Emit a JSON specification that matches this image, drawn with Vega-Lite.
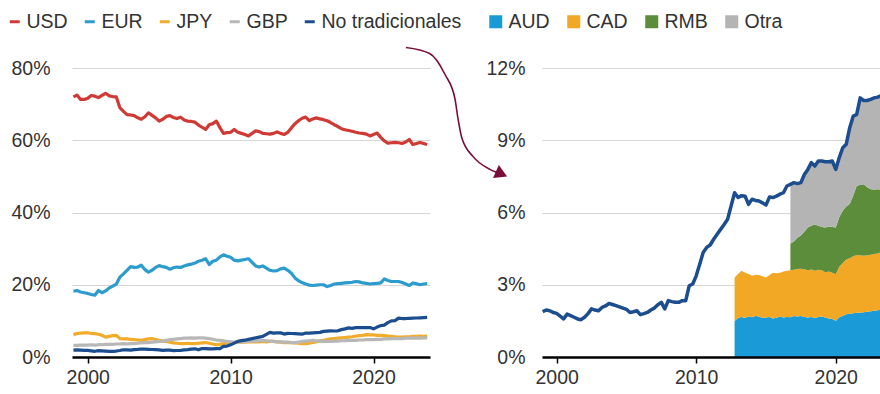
{
  "$schema": "https://vega.github.io/schema/vega-lite/v6.json",
  "padding": {"left": 5, "top": 12, "right": 0, "bottom": 0},
  "bounds": "flush",
  "spacing": 112,
  "config": {
    "view": {"stroke": null},
    "font": "Liberation Sans",
    "axis": {"labelFont": "Liberation Sans", "labelFontSize": 19.5, "labelColor": "#333333", "title": null},
    "legend": {"labelFont": "Liberation Sans", "labelFontSize": 19.5, "labelColor": "#333333", "title": null, "gridAlign": "none"}
  },
  "datasets": {
    "monedas": [
      {"t": 1999.00, "USD": 72.0, "EUR": 18.2, "JPY": 6.2, "GBP": 3.2, "No tradicionales": 1.88},
      {"t": 1999.25, "USD": 72.5, "EUR": 18.4, "JPY": 6.5, "GBP": 3.2, "No tradicionales": 1.95},
      {"t": 1999.50, "USD": 71.3, "EUR": 18.0, "JPY": 6.6, "GBP": 3.3, "No tradicionales": 1.92},
      {"t": 1999.75, "USD": 71.3, "EUR": 17.8, "JPY": 6.7, "GBP": 3.3, "No tradicionales": 1.85},
      {"t": 2000.00, "USD": 71.6, "EUR": 17.6, "JPY": 6.7, "GBP": 3.3, "No tradicionales": 1.81},
      {"t": 2000.25, "USD": 72.4, "EUR": 17.3, "JPY": 6.5, "GBP": 3.4, "No tradicionales": 1.70},
      {"t": 2000.50, "USD": 72.2, "EUR": 17.1, "JPY": 6.45, "GBP": 3.3, "No tradicionales": 1.58},
      {"t": 2000.75, "USD": 71.8, "EUR": 18.4, "JPY": 6.3, "GBP": 3.4, "No tradicionales": 1.78},
      {"t": 2001.00, "USD": 72.4, "EUR": 17.8, "JPY": 6.0, "GBP": 3.4, "No tradicionales": 1.72},
      {"t": 2001.25, "USD": 73.0, "EUR": 18.3, "JPY": 5.5, "GBP": 3.5, "No tradicionales": 1.65},
      {"t": 2001.50, "USD": 72.3, "EUR": 19.1, "JPY": 5.7, "GBP": 3.5, "No tradicionales": 1.58},
      {"t": 2001.75, "USD": 72.1, "EUR": 19.6, "JPY": 5.9, "GBP": 3.5, "No tradicionales": 1.55},
      {"t": 2002.00, "USD": 72.0, "EUR": 20.2, "JPY": 6.0, "GBP": 3.6, "No tradicionales": 1.65},
      {"t": 2002.25, "USD": 69.0, "EUR": 22.1, "JPY": 5.1, "GBP": 3.6, "No tradicionales": 1.80},
      {"t": 2002.50, "USD": 68.0, "EUR": 23.0, "JPY": 5.0, "GBP": 3.7, "No tradicionales": 2.00},
      {"t": 2002.75, "USD": 67.1, "EUR": 24.0, "JPY": 5.0, "GBP": 3.6, "No tradicionales": 1.95},
      {"t": 2003.00, "USD": 67.0, "EUR": 25.0, "JPY": 4.9, "GBP": 3.7, "No tradicionales": 1.92},
      {"t": 2003.25, "USD": 66.8, "EUR": 24.8, "JPY": 4.8, "GBP": 3.7, "No tradicionales": 2.06},
      {"t": 2003.50, "USD": 66.2, "EUR": 24.9, "JPY": 4.7, "GBP": 3.8, "No tradicionales": 2.12},
      {"t": 2003.75, "USD": 65.8, "EUR": 25.4, "JPY": 4.6, "GBP": 3.9, "No tradicionales": 2.22},
      {"t": 2004.00, "USD": 66.5, "EUR": 24.2, "JPY": 4.8, "GBP": 4.0, "No tradicionales": 2.18},
      {"t": 2004.25, "USD": 67.6, "EUR": 23.5, "JPY": 5.0, "GBP": 4.0, "No tradicionales": 2.13},
      {"t": 2004.50, "USD": 66.9, "EUR": 24.0, "JPY": 5.1, "GBP": 4.1, "No tradicionales": 2.08},
      {"t": 2004.75, "USD": 66.2, "EUR": 24.8, "JPY": 4.8, "GBP": 4.2, "No tradicionales": 2.03},
      {"t": 2005.00, "USD": 65.3, "EUR": 25.3, "JPY": 4.6, "GBP": 4.3, "No tradicionales": 1.98},
      {"t": 2005.25, "USD": 65.8, "EUR": 25.0, "JPY": 4.4, "GBP": 4.4, "No tradicionales": 1.85},
      {"t": 2005.50, "USD": 66.6, "EUR": 24.8, "JPY": 4.3, "GBP": 4.6, "No tradicionales": 1.88},
      {"t": 2005.75, "USD": 66.8, "EUR": 24.3, "JPY": 4.1, "GBP": 4.8, "No tradicionales": 1.92},
      {"t": 2006.00, "USD": 66.3, "EUR": 24.7, "JPY": 3.9, "GBP": 4.9, "No tradicionales": 1.76},
      {"t": 2006.25, "USD": 66.0, "EUR": 24.9, "JPY": 3.8, "GBP": 5.0, "No tradicionales": 1.80},
      {"t": 2006.50, "USD": 66.4, "EUR": 24.8, "JPY": 3.7, "GBP": 5.1, "No tradicionales": 1.85},
      {"t": 2006.75, "USD": 65.6, "EUR": 25.2, "JPY": 3.7, "GBP": 5.2, "No tradicionales": 1.95},
      {"t": 2007.00, "USD": 65.3, "EUR": 25.5, "JPY": 3.8, "GBP": 5.2, "No tradicionales": 2.03},
      {"t": 2007.25, "USD": 65.2, "EUR": 25.7, "JPY": 3.7, "GBP": 5.3, "No tradicionales": 2.17},
      {"t": 2007.50, "USD": 65.0, "EUR": 26.0, "JPY": 3.7, "GBP": 5.2, "No tradicionales": 2.27},
      {"t": 2007.75, "USD": 64.2, "EUR": 26.5, "JPY": 3.8, "GBP": 5.3, "No tradicionales": 2.00},
      {"t": 2008.00, "USD": 63.6, "EUR": 26.8, "JPY": 3.9, "GBP": 5.3, "No tradicionales": 2.34},
      {"t": 2008.25, "USD": 63.0, "EUR": 27.2, "JPY": 4.0, "GBP": 5.2, "No tradicionales": 2.30},
      {"t": 2008.50, "USD": 64.3, "EUR": 25.6, "JPY": 3.8, "GBP": 5.1, "No tradicionales": 2.27},
      {"t": 2008.75, "USD": 64.6, "EUR": 26.5, "JPY": 3.6, "GBP": 4.9, "No tradicionales": 2.27},
      {"t": 2009.00, "USD": 65.3, "EUR": 26.8, "JPY": 3.4, "GBP": 4.7, "No tradicionales": 2.34},
      {"t": 2009.25, "USD": 63.5, "EUR": 27.7, "JPY": 3.5, "GBP": 4.6, "No tradicionales": 2.34},
      {"t": 2009.50, "USD": 61.9, "EUR": 28.3, "JPY": 3.7, "GBP": 4.5, "No tradicionales": 2.96},
      {"t": 2009.75, "USD": 62.1, "EUR": 27.9, "JPY": 3.9, "GBP": 4.3, "No tradicionales": 3.03},
      {"t": 2010.00, "USD": 62.2, "EUR": 27.6, "JPY": 4.0, "GBP": 4.2, "No tradicionales": 3.37},
      {"t": 2010.25, "USD": 63.0, "EUR": 26.8, "JPY": 4.0, "GBP": 4.1, "No tradicionales": 3.85},
      {"t": 2010.50, "USD": 62.2, "EUR": 26.6, "JPY": 4.1, "GBP": 4.2, "No tradicionales": 4.34},
      {"t": 2010.75, "USD": 61.9, "EUR": 26.8, "JPY": 4.1, "GBP": 4.2, "No tradicionales": 4.55},
      {"t": 2011.00, "USD": 61.6, "EUR": 27.0, "JPY": 4.1, "GBP": 4.3, "No tradicionales": 4.65},
      {"t": 2011.25, "USD": 61.2, "EUR": 27.2, "JPY": 4.2, "GBP": 4.3, "No tradicionales": 4.89},
      {"t": 2011.50, "USD": 61.9, "EUR": 26.2, "JPY": 4.15, "GBP": 4.4, "No tradicionales": 5.10},
      {"t": 2011.75, "USD": 62.6, "EUR": 25.2, "JPY": 4.2, "GBP": 4.4, "No tradicionales": 5.30},
      {"t": 2012.00, "USD": 62.4, "EUR": 24.9, "JPY": 4.2, "GBP": 4.5, "No tradicionales": 5.50},
      {"t": 2012.25, "USD": 61.9, "EUR": 25.2, "JPY": 4.3, "GBP": 4.6, "No tradicionales": 5.72},
      {"t": 2012.50, "USD": 61.8, "EUR": 24.6, "JPY": 4.2, "GBP": 4.5, "No tradicionales": 6.27},
      {"t": 2012.75, "USD": 61.7, "EUR": 24.0, "JPY": 4.3, "GBP": 4.4, "No tradicionales": 6.82},
      {"t": 2013.00, "USD": 61.9, "EUR": 23.8, "JPY": 4.3, "GBP": 4.3, "No tradicionales": 6.62},
      {"t": 2013.25, "USD": 62.3, "EUR": 23.9, "JPY": 4.2, "GBP": 4.2, "No tradicionales": 6.70},
      {"t": 2013.50, "USD": 61.9, "EUR": 24.4, "JPY": 4.1, "GBP": 4.2, "No tradicionales": 6.68},
      {"t": 2013.75, "USD": 61.6, "EUR": 24.6, "JPY": 4.0, "GBP": 4.1, "No tradicionales": 6.34},
      {"t": 2014.00, "USD": 62.2, "EUR": 24.0, "JPY": 4.0, "GBP": 4.1, "No tradicionales": 6.55},
      {"t": 2014.25, "USD": 63.4, "EUR": 23.2, "JPY": 4.0, "GBP": 4.0, "No tradicionales": 6.50},
      {"t": 2014.50, "USD": 64.6, "EUR": 21.9, "JPY": 3.9, "GBP": 4.0, "No tradicionales": 6.48},
      {"t": 2014.75, "USD": 65.4, "EUR": 21.1, "JPY": 3.8, "GBP": 4.1, "No tradicionales": 6.40},
      {"t": 2015.00, "USD": 66.1, "EUR": 20.6, "JPY": 3.7, "GBP": 4.3, "No tradicionales": 6.31},
      {"t": 2015.25, "USD": 66.4, "EUR": 20.2, "JPY": 3.7, "GBP": 4.4, "No tradicionales": 6.64},
      {"t": 2015.50, "USD": 65.4, "EUR": 19.9, "JPY": 3.8, "GBP": 4.5, "No tradicionales": 6.62},
      {"t": 2015.75, "USD": 65.9, "EUR": 19.8, "JPY": 4.0, "GBP": 4.6, "No tradicionales": 6.68},
      {"t": 2016.00, "USD": 66.2, "EUR": 19.9, "JPY": 4.2, "GBP": 4.5, "No tradicionales": 6.76},
      {"t": 2016.25, "USD": 65.9, "EUR": 20.0, "JPY": 4.5, "GBP": 4.4, "No tradicionales": 6.82},
      {"t": 2016.50, "USD": 65.7, "EUR": 20.0, "JPY": 4.6, "GBP": 4.3, "No tradicionales": 7.10},
      {"t": 2016.75, "USD": 65.4, "EUR": 19.5, "JPY": 4.8, "GBP": 4.3, "No tradicionales": 7.17},
      {"t": 2017.00, "USD": 64.9, "EUR": 19.8, "JPY": 5.0, "GBP": 4.3, "No tradicionales": 7.24},
      {"t": 2017.25, "USD": 64.3, "EUR": 20.2, "JPY": 5.1, "GBP": 4.4, "No tradicionales": 7.20},
      {"t": 2017.50, "USD": 63.8, "EUR": 20.3, "JPY": 5.2, "GBP": 4.4, "No tradicionales": 7.24},
      {"t": 2017.75, "USD": 63.2, "EUR": 20.4, "JPY": 5.3, "GBP": 4.5, "No tradicionales": 7.58},
      {"t": 2018.00, "USD": 62.9, "EUR": 20.5, "JPY": 5.4, "GBP": 4.5, "No tradicionales": 7.79},
      {"t": 2018.25, "USD": 62.7, "EUR": 20.6, "JPY": 5.5, "GBP": 4.6, "No tradicionales": 8.07},
      {"t": 2018.50, "USD": 62.5, "EUR": 20.7, "JPY": 5.6, "GBP": 4.6, "No tradicionales": 7.93},
      {"t": 2018.75, "USD": 62.2, "EUR": 20.9, "JPY": 5.8, "GBP": 4.6, "No tradicionales": 8.14},
      {"t": 2019.00, "USD": 62.0, "EUR": 20.8, "JPY": 5.9, "GBP": 4.7, "No tradicionales": 8.14},
      {"t": 2019.25, "USD": 61.9, "EUR": 20.5, "JPY": 6.0, "GBP": 4.7, "No tradicionales": 8.11},
      {"t": 2019.50, "USD": 61.7, "EUR": 20.4, "JPY": 6.2, "GBP": 4.8, "No tradicionales": 8.11},
      {"t": 2019.75, "USD": 61.2, "EUR": 20.2, "JPY": 6.1, "GBP": 4.8, "No tradicionales": 8.14},
      {"t": 2020.00, "USD": 61.6, "EUR": 20.3, "JPY": 6.1, "GBP": 4.8, "No tradicionales": 7.79},
      {"t": 2020.25, "USD": 62.0, "EUR": 20.4, "JPY": 6.0, "GBP": 4.9, "No tradicionales": 8.28},
      {"t": 2020.50, "USD": 60.8, "EUR": 20.5, "JPY": 6.0, "GBP": 4.9, "No tradicionales": 8.69},
      {"t": 2020.75, "USD": 59.8, "EUR": 21.6, "JPY": 5.9, "GBP": 5.0, "No tradicionales": 8.83},
      {"t": 2021.00, "USD": 59.2, "EUR": 21.2, "JPY": 5.8, "GBP": 5.0, "No tradicionales": 9.52},
      {"t": 2021.25, "USD": 59.3, "EUR": 20.9, "JPY": 5.7, "GBP": 5.1, "No tradicionales": 10.00},
      {"t": 2021.50, "USD": 59.4, "EUR": 20.9, "JPY": 5.6, "GBP": 5.1, "No tradicionales": 10.07},
      {"t": 2021.75, "USD": 59.3, "EUR": 20.9, "JPY": 5.5, "GBP": 5.1, "No tradicionales": 10.76},
      {"t": 2022.00, "USD": 59.1, "EUR": 20.6, "JPY": 5.5, "GBP": 5.1, "No tradicionales": 10.65},
      {"t": 2022.25, "USD": 59.5, "EUR": 20.2, "JPY": 5.6, "GBP": 5.2, "No tradicionales": 10.65},
      {"t": 2022.50, "USD": 60.2, "EUR": 19.8, "JPY": 5.6, "GBP": 5.2, "No tradicionales": 10.70},
      {"t": 2022.75, "USD": 58.8, "EUR": 20.5, "JPY": 5.7, "GBP": 5.2, "No tradicionales": 10.76},
      {"t": 2023.00, "USD": 59.1, "EUR": 20.3, "JPY": 5.7, "GBP": 5.3, "No tradicionales": 10.79},
      {"t": 2023.25, "USD": 59.4, "EUR": 20.0, "JPY": 5.8, "GBP": 5.2, "No tradicionales": 10.85},
      {"t": 2023.50, "USD": 59.1, "EUR": 20.2, "JPY": 5.7, "GBP": 5.3, "No tradicionales": 10.90},
      {"t": 2023.75, "USD": 58.8, "EUR": 20.3, "JPY": 5.8, "GBP": 5.3, "No tradicionales": 10.95}
    ],
    "bloques": [
      {"t": 2012.75, "AUD": 1.50, "CAD": 1.80, "RMB": null, "Otra": null},
      {"t": 2013.00, "AUD": 1.62, "CAD": 1.83, "RMB": null, "Otra": null},
      {"t": 2013.25, "AUD": 1.66, "CAD": 1.92, "RMB": null, "Otra": null},
      {"t": 2013.50, "AUD": 1.62, "CAD": 1.88, "RMB": null, "Otra": null},
      {"t": 2013.75, "AUD": 1.68, "CAD": 1.77, "RMB": null, "Otra": null},
      {"t": 2014.00, "AUD": 1.65, "CAD": 1.72, "RMB": null, "Otra": null},
      {"t": 2014.25, "AUD": 1.70, "CAD": 1.72, "RMB": null, "Otra": null},
      {"t": 2014.50, "AUD": 1.68, "CAD": 1.72, "RMB": null, "Otra": null},
      {"t": 2014.75, "AUD": 1.62, "CAD": 1.73, "RMB": null, "Otra": null},
      {"t": 2015.00, "AUD": 1.64, "CAD": 1.66, "RMB": null, "Otra": null},
      {"t": 2015.25, "AUD": 1.66, "CAD": 1.74, "RMB": null, "Otra": null},
      {"t": 2015.50, "AUD": 1.60, "CAD": 1.90, "RMB": null, "Otra": null},
      {"t": 2015.75, "AUD": 1.63, "CAD": 1.85, "RMB": null, "Otra": null},
      {"t": 2016.00, "AUD": 1.68, "CAD": 1.82, "RMB": null, "Otra": null},
      {"t": 2016.25, "AUD": 1.64, "CAD": 1.91, "RMB": null, "Otra": null},
      {"t": 2016.50, "AUD": 1.66, "CAD": 1.92, "RMB": null, "Otra": null},
      {"t": 2016.75, "AUD": 1.65, "CAD": 1.95, "RMB": 1.10, "Otra": 2.47},
      {"t": 2017.00, "AUD": 1.70, "CAD": 1.92, "RMB": 1.18, "Otra": 2.44},
      {"t": 2017.25, "AUD": 1.68, "CAD": 1.97, "RMB": 1.30, "Otra": 2.25},
      {"t": 2017.50, "AUD": 1.70, "CAD": 1.96, "RMB": 1.39, "Otra": 2.19},
      {"t": 2017.75, "AUD": 1.66, "CAD": 1.98, "RMB": 1.56, "Otra": 2.38},
      {"t": 2018.00, "AUD": 1.64, "CAD": 1.96, "RMB": 1.78, "Otra": 2.41},
      {"t": 2018.25, "AUD": 1.66, "CAD": 1.97, "RMB": 1.82, "Otra": 2.62},
      {"t": 2018.50, "AUD": 1.62, "CAD": 1.96, "RMB": 1.92, "Otra": 2.43},
      {"t": 2018.75, "AUD": 1.66, "CAD": 1.96, "RMB": 1.83, "Otra": 2.69},
      {"t": 2019.00, "AUD": 1.68, "CAD": 1.92, "RMB": 1.80, "Otra": 2.74},
      {"t": 2019.25, "AUD": 1.64, "CAD": 1.88, "RMB": 1.86, "Otra": 2.73},
      {"t": 2019.50, "AUD": 1.60, "CAD": 1.95, "RMB": 1.87, "Otra": 2.69},
      {"t": 2019.75, "AUD": 1.58, "CAD": 1.92, "RMB": 1.90, "Otra": 2.74},
      {"t": 2020.00, "AUD": 1.51, "CAD": 1.93, "RMB": 1.94, "Otra": 2.41},
      {"t": 2020.25, "AUD": 1.65, "CAD": 2.10, "RMB": 2.05, "Otra": 2.48},
      {"t": 2020.50, "AUD": 1.70, "CAD": 2.20, "RMB": 2.17, "Otra": 2.62},
      {"t": 2020.75, "AUD": 1.78, "CAD": 2.27, "RMB": 2.20, "Otra": 2.58},
      {"t": 2021.00, "AUD": 1.80, "CAD": 2.30, "RMB": 2.25, "Otra": 3.17},
      {"t": 2021.25, "AUD": 1.82, "CAD": 2.36, "RMB": 2.52, "Otra": 3.30},
      {"t": 2021.50, "AUD": 1.84, "CAD": 2.40, "RMB": 2.86, "Otra": 2.97},
      {"t": 2021.75, "AUD": 1.84, "CAD": 2.38, "RMB": 2.93, "Otra": 3.61},
      {"t": 2022.00, "AUD": 1.86, "CAD": 2.34, "RMB": 2.97, "Otra": 3.48},
      {"t": 2022.25, "AUD": 1.88, "CAD": 2.34, "RMB": 2.83, "Otra": 3.60},
      {"t": 2022.50, "AUD": 1.90, "CAD": 2.35, "RMB": 2.72, "Otra": 3.73},
      {"t": 2022.75, "AUD": 1.92, "CAD": 2.36, "RMB": 2.67, "Otra": 3.81},
      {"t": 2023.00, "AUD": 1.94, "CAD": 2.36, "RMB": 2.67, "Otra": 3.82},
      {"t": 2023.25, "AUD": 1.96, "CAD": 2.39, "RMB": 2.60, "Otra": 3.90},
      {"t": 2023.50, "AUD": 1.98, "CAD": 2.40, "RMB": 2.52, "Otra": 4.00},
      {"t": 2023.75, "AUD": 1.99, "CAD": 2.41, "RMB": 2.52, "Otra": 4.03}
    ],
    "flecha": [
      {"t": 1989.2, "v": 12.85},
      {"t": 1990.9, "v": 12.6},
      {"t": 1992.0, "v": 11.73},
      {"t": 1992.71, "v": 10.73},
      {"t": 1992.93, "v": 9.9},
      {"t": 1993.22, "v": 9.07},
      {"t": 1994.0, "v": 8.33},
      {"t": 1995.22, "v": 7.79},
      {"t": 1995.72, "v": 7.66}
    ],
    "punta": [
      {"t": 1996.05, "v": 7.6}
    ]
  },
  "resolve": {
    "scale": {"color": "independent", "x": "independent", "y": "independent"},
    "legend": {"color": "independent"}
  },
  "hconcat": [
    {
      "width": 358,
      "height": 289,
      "data": {"name": "monedas"},
      "transform": [
        {"fold": ["USD", "EUR", "JPY", "GBP", "No tradicionales"], "as": ["serie", "v"]}
      ],
      "mark": {"type": "line", "strokeWidth": 3.2, "strokeJoin": "round"},
      "encoding": {
        "x": {
          "field": "t", "type": "quantitative",
          "scale": {"domain": [1998.9, 2023.95], "nice": false, "zero": false},
          "axis": {
            "values": [2000, 2010, 2020], "format": "d", "grid": false,
            "domain": true, "domainColor": "#000000", "domainWidth": 2.5,
            "ticks": true, "tickColor": "#000000", "tickSize": 6, "tickWidth": 1.5,
            "labelPadding": 5, "zindex": 1
          }
        },
        "y": {
          "field": "v", "type": "quantitative",
          "scale": {"domain": [0, 80], "nice": false},
          "axis": {
            "values": [0, 20, 40, 60, 80], "labelExpr": "datum.value + '%'",
            "grid": true, "gridColor": "#d6d6d6", "gridWidth": 1.2,
            "domain": false, "ticks": false, "labelPadding": 22
          }
        },
        "color": {
          "field": "serie", "type": "nominal",
          "scale": {
            "domain": ["USD", "EUR", "JPY", "GBP", "No tradicionales"],
            "range": ["#cf3a35", "#2c9ccf", "#f0ac2a", "#b7b7b7", "#1b4d8f"]
          },
          "legend": {
            "orient": "none", "legendX": -67, "legendY": -56, "direction": "horizontal",
            "symbolType": "stroke", "symbolStrokeWidth": 3, "symbolSize": 100,
            "labelOffset": 2, "columnPadding": 10
          }
        }
      }
    },
    {
      "width": 338,
      "height": 289,
      "layer": [
        {
          "data": {"name": "bloques"},
          "transform": [
            {"fold": ["AUD", "CAD", "RMB", "Otra"], "as": ["serie", "v"]},
            {"filter": "isValid(datum.v)"},
            {"stack": "v", "groupby": ["t"], "as": ["v0", "v1"]}
          ],
          "mark": {"type": "area", "opacity": 1, "clip": true},
          "encoding": {
            "x": {
              "field": "t", "type": "quantitative",
              "scale": {"domain": [1998.95, 2023.17], "nice": false, "zero": false},
              "axis": {
                "values": [2000, 2010, 2020], "format": "d", "grid": false,
                "domain": true, "domainColor": "#000000", "domainWidth": 2.5,
                "ticks": true, "tickColor": "#000000", "tickSize": 6, "tickWidth": 1.5,
                "labelPadding": 5, "zindex": 1
              }
            },
            "y": {
              "field": "v1", "type": "quantitative",
              "scale": {"domain": [0, 12], "nice": false},
              "axis": {
                "values": [0, 3, 6, 9, 12], "labelExpr": "datum.value + '%'",
                "grid": true, "gridColor": "#d6d6d6", "gridWidth": 1.2,
                "domain": false, "ticks": false, "labelPadding": 17
              }
            },
            "y2": {"field": "v0"},
            "color": {
              "field": "serie", "type": "nominal",
              "scale": {
                "domain": ["AUD", "CAD", "RMB", "Otra"],
                "range": ["#1a9bd7", "#f2a824", "#5b8d3a", "#b4b4b4"]
              },
              "legend": {
                "orient": "none", "legendX": -56, "legendY": -56, "direction": "horizontal",
                "symbolType": "square", "symbolSize": 169, "symbolStrokeWidth": 0,
                "symbolOpacity": 1, "labelOffset": 3, "columnPadding": 14
              }
            }
          }
        },
        {
          "data": {"name": "monedas"},
          "mark": {"type": "line", "color": "#1b4d8f", "strokeWidth": 3.5, "strokeJoin": "round", "clip": true},
          "encoding": {
            "x": {"field": "t", "type": "quantitative"},
            "y": {"field": "No tradicionales", "type": "quantitative"}
          }
        },
        {
          "data": {"name": "flecha"},
          "mark": {"type": "line", "color": "#7a0c3c", "strokeWidth": 1.6, "interpolate": "monotone"},
          "encoding": {
            "x": {"field": "t", "type": "quantitative"},
            "y": {"field": "v", "type": "quantitative"}
          }
        },
        {
          "data": {"name": "punta"},
          "mark": {"type": "point", "shape": "triangle-right", "filled": true, "color": "#7a0c3c", "opacity": 1, "size": 200, "angle": 24},
          "encoding": {
            "x": {"field": "t", "type": "quantitative"},
            "y": {"field": "v", "type": "quantitative"}
          }
        }
      ]
    }
  ]
}
